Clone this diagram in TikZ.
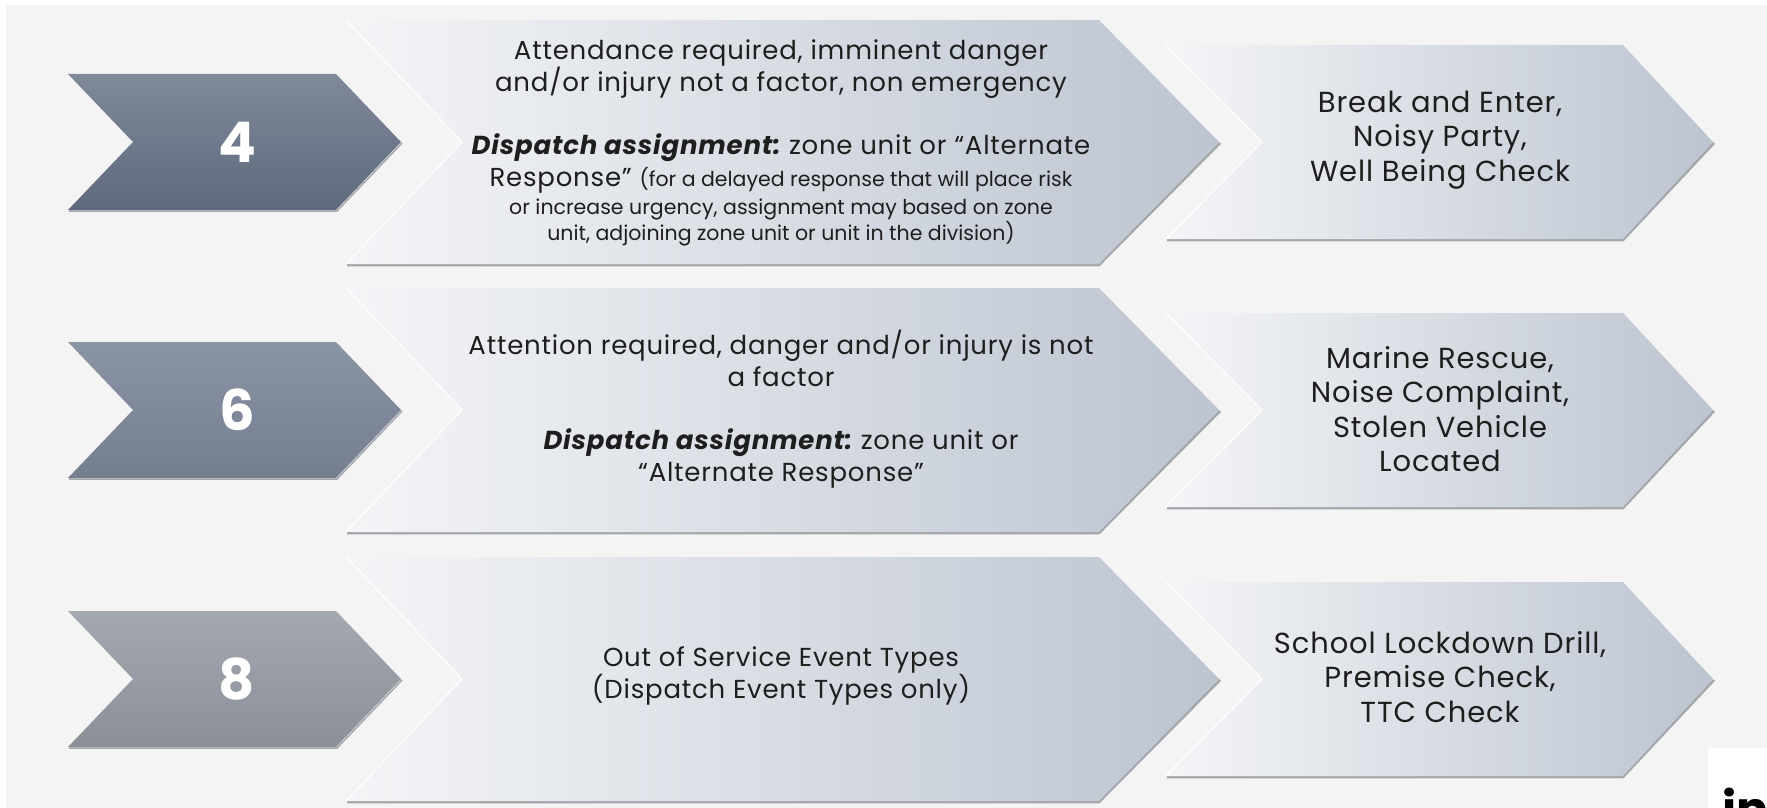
\documentclass[tikz,border=0pt]{standalone}
\usepackage{fontspec}
\setmainfont{Poppins}
\newfontfamily\widefam[LetterSpace=3]{Poppins}
\definecolor{bgc}{HTML}{F4F4F4}
\definecolor{bigL}{HTML}{F4F5F7}
\definecolor{bigR}{HTML}{BCC4D0}
\definecolor{sTopA}{HTML}{7F8999}
\definecolor{sBotA}{HTML}{5E697D}
\definecolor{sTopB}{HTML}{8B94A3}
\definecolor{sBotB}{HTML}{747E8F}
\definecolor{sTopC}{HTML}{A4A9B1}
\definecolor{sBotC}{HTML}{8B8F97}
\definecolor{shadowc}{HTML}{A3A6AB}
\definecolor{txtc}{HTML}{1E1E1E}
\tikzset{
  maintext/.style={text=txtc, align=center, font=\widefam\fontsize{26}{31.6}\selectfont, inner sep=0pt},
  righttext/.style={text=txtc, align=center, font=\widefam\fontsize{29}{34.4}\selectfont, inner sep=0pt},
  numtext/.style={text=white, font=\fontsize{56}{60}\selectfont\bfseries, inner sep=0pt},
  shadowline/.style={draw=shadowc, line width=2.5pt, line join=round},
  edgeline/.style={draw=white, line width=1.2pt}
}
\newcommand\smallfont{\normalfont\fontsize{20.5}{24}\selectfont}
\begin{document}
\begin{tikzpicture}[x=1pt,y=-1pt]
\useasboundingbox (0,0) rectangle (1767,808);
\clip (0,0) rectangle (1767,808);
\fill[white] (0,0) rectangle (1767,808);
\fill[bgc] (6,5) rectangle (1767,808);
\foreach \yc/\ct/\cb/\nm/\lab in {142/sTopA/sBotA/a/4, 410/sTopB/sBotB/b/6, 679/sTopC/sBotC/c/8}{
  % small number chevron
  \draw[shadowline, line width=1.5pt] (69,\yc+69) -- (337,\yc+69) -- (402,\yc+1);
  \shade[top color=\ct, bottom color=\cb] (68,\yc-68) -- (336,\yc-68) -- (401,\yc) -- (336,\yc+68) -- (68,\yc+68) -- (133,\yc) -- cycle;
  \node[numtext] (num\nm) at (237,\yc) {\lab};
  % big description chevron
  \draw[shadowline] (347,\yc+123) -- (1099,\yc+123) -- (1220,\yc+1);
  \shade[left color=bigL, right color=bigR] (346,\yc-122) -- (1099,\yc-122) -- (1219,\yc) -- (1099,\yc+122) -- (346,\yc+122) -- (462,\yc) -- cycle;
  \draw[edgeline] (346,\yc-122) -- (462,\yc) -- (346,\yc+122);
  % right example chevron
  \draw[shadowline] (1167,\yc+98) -- (1623,\yc+98) -- (1714,\yc+1);
  \shade[left color=bigL, right color=bigR] (1166,\yc-97) -- (1623,\yc-97) -- (1713,\yc) -- (1623,\yc+97) -- (1166,\yc+97) -- (1262,\yc) -- cycle;
  \draw[edgeline] (1166,\yc-97) -- (1262,\yc) -- (1166,\yc+97);
}
% texts row 1
\node[maintext] (desc4) at (781,143) {Attendance required, imminent danger\\
and/or injury not a factor, non emergency\\[31.6pt]
\textbf{\textit{Dispatch assignment:}}~zone unit or “Alternate\\
Response” {\smallfont(for a delayed response that will place risk}\\[-3.6pt]
{\smallfont or increase urgency, assignment may based on zone}\\[-5.6pt]
{\smallfont unit, adjoining zone unit or unit in the division)}};
\node[righttext] (ex4) at (1440,140) {Break and Enter,\\Noisy Party,\\Well Being Check};
% row 2
\node[maintext] (desc6) at (781,409) {Attention required, danger and/or injury is not\\
a factor\\[31.6pt]
\textbf{\textit{Dispatch assignment:}}~zone unit or\\
“Alternate Response”};
\node[righttext] (ex6) at (1440,409) {Marine Rescue,\\Noise Complaint,\\Stolen Vehicle\\Located};
% row 3
\node[maintext] (desc8) at (781,676) {Out of Service Event Types\\(Dispatch Event Types only)};
\node[righttext] (ex8) at (1440,677) {School Lockdown Drill,\\Premise Check,\\TTC Check};
% watermark
\fill[white] (1708,748) rectangle (1767,808);
\node[anchor=base west, inner sep=0pt, text=black, font=\fontsize{48}{50}\selectfont\bfseries] (logo) at (1722,826) {in};
\end{tikzpicture}
\end{document}
